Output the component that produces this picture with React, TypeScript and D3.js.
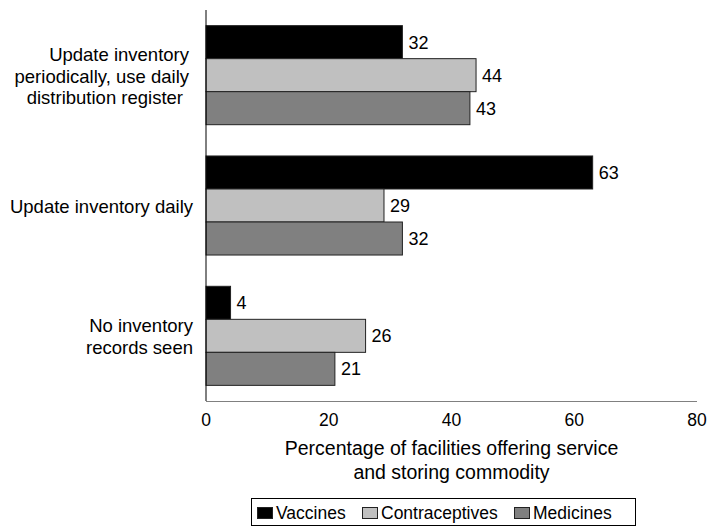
import React from "react";
import * as d3 from "d3";

const categories = [
  "Update inventory periodically, use daily distribution register",
  "Update inventory daily",
  "No inventory records seen",
];
const categoryLines = [
  ["Update inventory", "periodically, use daily", "distribution register"],
  ["Update inventory daily"],
  ["No inventory", "records seen"],
];
const seriesNames = ["Vaccines", "Contraceptives", "Medicines"];
const vaccines = [32, 63, 4];
const contraceptives = [44, 29, 26];
const medicines = [43, 32, 21];
const xTicks = [0, 20, 40, 60, 80];
const xTitle = ["Percentage of facilities offering service", "and storing commodity"];

const colors: Record<string, string> = {
  Vaccines: "#000000",
  Contraceptives: "#c0c0c0",
  Medicines: "#808080",
};

export default function App() {
  const W = 709, H = 527;
  const left = 206, right = 697, top = 10, bottom = 401;
  const font = "'Liberation Sans', Arial, sans-serif";
  const x = d3.scaleLinear().domain([0, 80]).range([left, right]);
  const y = d3.scaleBand<string>().domain(categories).range([top, bottom]).paddingInner(0.24).paddingOuter(0.12);
  const sub = d3.scaleBand<string>().domain(seriesNames).range([0, y.bandwidth()]);
  const values: Record<string, number[]> = { Vaccines: vaccines, Contraceptives: contraceptives, Medicines: medicines };
  const lineH = 21.7;
  const labelRight = [189, 193, 193];
  const lineDx = [[0, 0, -6], [0], [0, 0]];
  const legendItems = [
    { name: "Vaccines", sx: 257, tx: 276 },
    { name: "Contraceptives", sx: 362, tx: 381 },
    { name: "Medicines", sx: 514, tx: 533 },
  ];

  return (
    <svg width={W} height={H} style={{ position: "absolute", left: 0, top: 0, background: "#fff" }} fontFamily={font}>
      {categories.map((c, ci) => (
        <g key={c}>
          {seriesNames.map((s) => {
            const v = values[s][ci];
            const y0 = (y(c) as number) + (sub(s) as number);
            return (
              <g key={s}>
                <rect x={x(0)} y={y0} width={x(v) - x(0)} height={sub.bandwidth()} fill={colors[s]} stroke="#222" strokeWidth={1} />
                <text x={x(v) + 6} y={y0 + sub.bandwidth() / 2} dy="0.36em" fontSize={18} fill="#000">{v}</text>
              </g>
            );
          })}
          {categoryLines[ci].map((ln, li) => {
            const cy = (y(c) as number) + y.bandwidth() / 2;
            const n = categoryLines[ci].length;
            const yy = cy + (li - (n - 1) / 2) * lineH;
            return (
              <text key={li} x={labelRight[ci] + lineDx[ci][li]} y={yy} dy="0.4em" textAnchor="end" fontSize={18.5} fill="#000">{ln}</text>
            );
          })}
        </g>
      ))}
      <line x1={left} x2={left} y1={top} y2={bottom} stroke="#000" strokeWidth={1} />
      <line x1={left} x2={right} y1={bottom + 0.5} y2={bottom + 0.5} stroke="#808080" strokeWidth={1} />
      {xTicks.map((t) => (
        <text key={t} x={x(t)} y={426} textAnchor="middle" fontSize={17.5} fill="#000">{t}</text>
      ))}
      {xTitle.map((t, i) => (
        <text key={i} x={(left + right) / 2} y={455 + i * 24} textAnchor="middle" fontSize={19.5} fill="#000">{t}</text>
      ))}
      <rect x={251.5} y={498.5} width={384} height={27} fill="#fff" stroke="#000" strokeWidth={1} />
      {legendItems.map((it) => (
        <g key={it.name}>
          <rect x={it.sx + 0.5} y={507.5} width={15} height={11} fill={colors[it.name]} stroke="#222" strokeWidth={1} />
          <text x={it.tx} y={519} fontSize={17.5} fill="#000">{it.name}</text>
        </g>
      ))}
    </svg>
  );
}
